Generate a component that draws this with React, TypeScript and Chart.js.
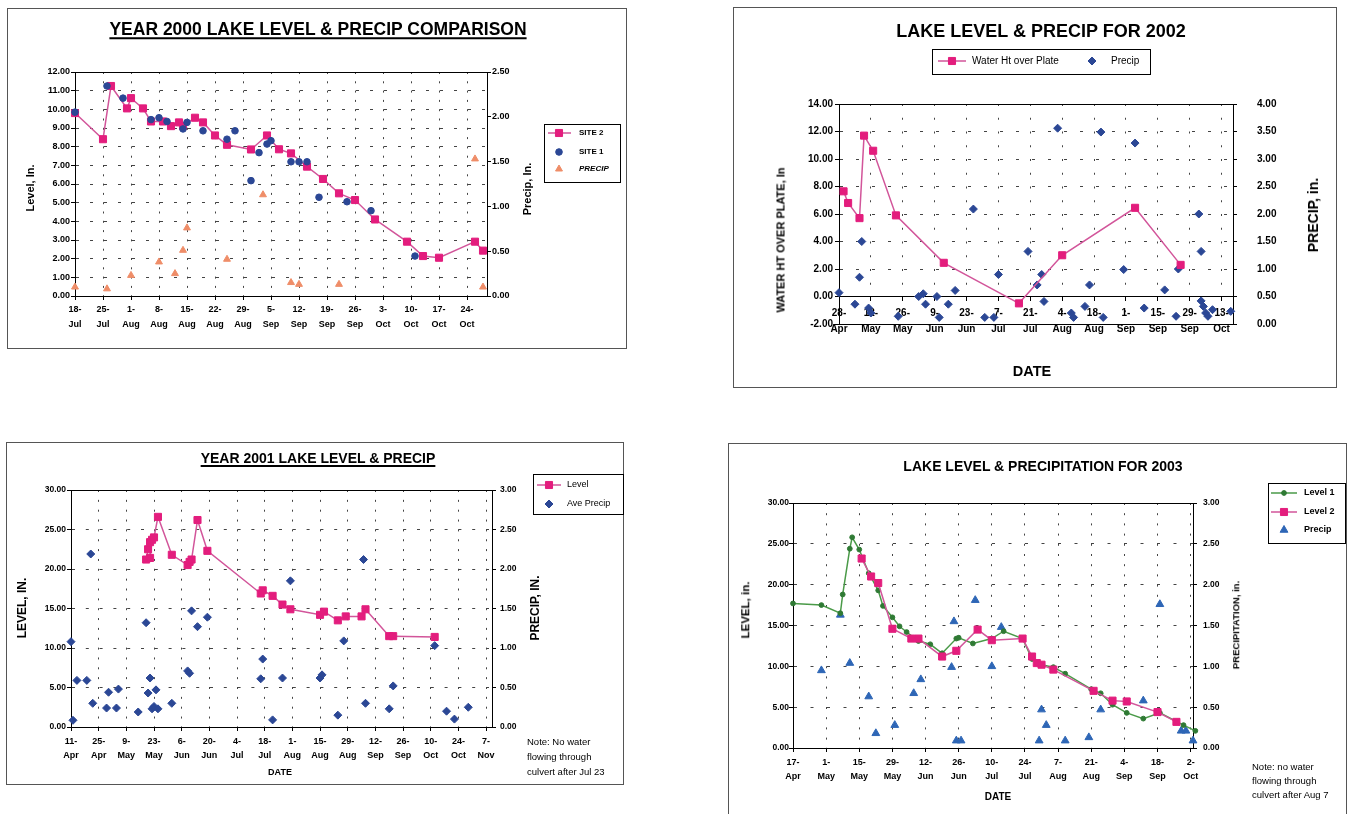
import React, { useEffect, useRef } from "react";
import { Chart, registerables } from "chart.js";
import { drawPoint } from "chart.js/helpers";

Chart.register(...registerables);

const FONT = "'Liberation Sans', Arial, Helvetica, sans-serif";
const GRID = "#444444";
const MON = ["Jan", "Feb", "Mar", "Apr", "May", "Jun", "Jul", "Aug", "Sep", "Oct", "Nov", "Dec"];

// ---------------- YEAR 2000 ----------------
const ticks2000 = ["18-Jul", "25-Jul", "1-Aug", "8-Aug", "15-Aug", "22-Aug", "29-Aug", "5-Sep", "12-Sep", "19-Sep", "26-Sep", "3-Oct", "10-Oct", "17-Oct", "24-Oct"];
const axisEnd2000 = "10-29";
const site2Dates2000 = ["07-18", "07-25", "07-27", "07-31", "08-01", "08-04", "08-06", "08-09", "08-11", "08-13", "08-14", "08-17", "08-19", "08-22", "08-25", "08-31", "09-04", "09-07", "09-10", "09-14", "09-18", "09-22", "09-26", "10-01", "10-09", "10-13", "10-17", "10-26", "10-28"];
const site2Level2000 = [9.8, 8.4, 11.25, 10.05, 10.6, 10.05, 9.35, 9.35, 9.1, 9.3, 9.1, 9.55, 9.3, 8.6, 8.1, 7.85, 8.6, 7.86, 7.64, 6.93, 6.27, 5.5, 5.14, 4.1, 2.91, 2.14, 2.05, 2.91, 2.43];
const site1Dates2000 = ["07-18", "07-26", "07-30", "08-06", "08-08", "08-10", "08-14", "08-15", "08-19", "08-25", "08-27", "08-31", "09-02", "09-04", "09-05", "09-10", "09-12", "09-14", "09-17", "09-24", "09-30", "10-11"];
const site1Level2000 = [9.85, 11.25, 10.6, 9.45, 9.55, 9.35, 8.95, 9.3, 8.85, 8.4, 8.85, 6.18, 7.68, 8.14, 8.32, 7.19, 7.19, 7.19, 5.29, 5.05, 4.57, 2.14];
const precipDates2000 = ["07-18", "07-26", "08-01", "08-08", "08-12", "08-14", "08-15", "08-25", "09-03", "09-10", "09-12", "09-22", "10-26", "10-28"];
const precip2000 = [0.1, 0.08, 0.23, 0.38, 0.25, 0.51, 0.76, 0.41, 1.13, 0.15, 0.13, 0.13, 1.53, 0.1];

// ---------------- YEAR 2002 ----------------
const ticks2002 = ["28-Apr", "12-May", "26-May", "9-Jun", "23-Jun", "7-Jul", "21-Jul", "4-Aug", "18-Aug", "1-Sep", "15-Sep", "29-Sep", "13-Oct"];
const axisEnd2002 = "10-18";
const waterDates2002 = ["04-30", "05-02", "05-07", "05-09", "05-13", "05-23", "06-13", "07-16", "08-04", "09-05", "09-25"];
const waterHt2002 = [7.65, 6.8, 5.7, 11.7, 10.6, 5.9, 2.45, -0.5, 3.0, 6.45, 2.3];
const precipDates2002 = ["04-28", "05-05", "05-07", "05-08", "05-11", "05-12", "05-24", "06-02", "06-04", "06-05", "06-10", "06-11", "06-15", "06-18", "06-26", "07-01", "07-05", "07-07", "07-20", "07-24", "07-26", "07-27", "08-02", "08-08", "08-09", "08-14", "08-16", "08-21", "08-22", "08-31", "09-05", "09-09", "09-18", "09-23", "09-24", "10-03", "10-04", "10-04", "10-05", "10-06", "10-07", "10-09", "10-17"];
const precip2002 = [0.57, 0.36, 0.85, 1.5, 0.29, 0.2, 0.14, 0.5, 0.55, 0.36, 0.5, 0.12, 0.36, 0.61, 2.09, 0.12, 0.12, 0.9, 1.32, 0.71, 0.9, 0.41, 3.56, 0.2, 0.12, 0.32, 0.71, 3.49, 0.12, 0.99, 3.29, 0.29, 0.62, 0.14, 1.0, 2.0, 1.32, 0.42, 0.32, 0.2, 0.14, 0.26, 0.23];

// ---------------- YEAR 2001 ----------------
const ticks2001 = ["11-Apr", "25-Apr", "9-May", "23-May", "6-Jun", "20-Jun", "4-Jul", "18-Jul", "1-Aug", "15-Aug", "29-Aug", "12-Sep", "26-Sep", "10-Oct", "24-Oct", "7-Nov"];
const axisEnd2001 = "11-10";
const levelDates2001 = ["05-19", "05-20", "05-21", "05-21", "05-22", "05-23", "05-25", "06-01", "06-09", "06-10", "06-11", "06-14", "06-19", "07-16", "07-17", "07-22", "07-27", "07-31", "08-15", "08-17", "08-24", "08-28", "09-05", "09-07", "09-19", "09-21", "10-12"];
const level2001 = [21.2, 22.5, 23.4, 21.4, 23.7, 24.0, 26.6, 21.8, 20.5, 20.9, 21.2, 26.2, 22.3, 16.9, 17.3, 16.6, 15.5, 14.9, 14.2, 14.6, 13.5, 14.0, 14.0, 14.9, 11.5, 11.5, 11.4];
const precipDates2001 = ["04-11", "04-12", "04-14", "04-19", "04-21", "04-22", "04-29", "04-30", "05-04", "05-05", "05-15", "05-19", "05-20", "05-21", "05-22", "05-23", "05-24", "05-25", "06-01", "06-09", "06-10", "06-11", "06-14", "06-19", "07-16", "07-17", "07-22", "07-27", "07-31", "08-15", "08-16", "08-24", "08-27", "09-06", "09-07", "09-19", "09-21", "10-12", "10-18", "10-22", "10-29"];
const precip2001 = [1.08, 0.085, 0.59, 0.59, 2.19, 0.3, 0.24, 0.44, 0.24, 0.48, 0.19, 1.32, 0.43, 0.62, 0.23, 0.26, 0.47, 0.23, 0.3, 0.71, 0.68, 1.47, 1.27, 1.39, 0.61, 0.86, 0.09, 0.62, 1.85, 0.62, 0.66, 0.15, 1.09, 2.12, 0.3, 0.23, 0.52, 1.03, 0.2, 0.1, 0.25];

// ---------------- YEAR 2003 ----------------
const ticks2003 = ["17-Apr", "1-May", "15-May", "29-May", "12-Jun", "26-Jun", "10-Jul", "24-Jul", "7-Aug", "21-Aug", "4-Sep", "18-Sep", "2-Oct"];
const axisEnd2003 = "10-03";
const level1Dates2003 = ["04-17", "04-29", "05-07", "05-08", "05-11", "05-12", "05-15", "05-19", "05-23", "05-25", "05-29", "06-01", "06-04", "06-09", "06-14", "06-19", "06-25", "06-26", "07-02", "07-10", "07-15", "07-23", "07-27", "07-31", "08-05", "08-10", "08-21", "08-25", "08-30", "09-05", "09-12", "09-19", "09-29", "10-04"];
const level1_2003 = [17.7, 17.5, 16.5, 18.8, 24.4, 25.8, 24.3, 21.4, 19.3, 17.4, 16.0, 14.9, 14.2, 13.1, 12.7, 11.6, 13.4, 13.5, 12.8, 13.4, 14.3, 13.4, 10.9, 10.2, 9.9, 9.1, 7.2, 6.7, 5.3, 4.3, 3.6, 4.3, 2.8, 2.1];
const level2Dates2003 = ["05-16", "05-20", "05-23", "05-29", "06-06", "06-09", "06-19", "06-25", "07-04", "07-10", "07-23", "07-27", "07-29", "07-31", "08-05", "08-22", "08-30", "09-05", "09-18", "09-26"];
const level2_2003 = [23.2, 21.0, 20.2, 14.6, 13.4, 13.4, 11.2, 11.9, 14.5, 13.2, 13.4, 11.2, 10.4, 10.2, 9.6, 7.0, 5.8, 5.7, 4.4, 3.2];
const precipDates2003 = ["04-29", "05-07", "05-11", "05-19", "05-22", "05-30", "06-07", "06-10", "06-23", "06-24", "06-25", "06-27", "07-03", "07-10", "07-14", "07-30", "07-31", "08-02", "08-10", "08-20", "08-25", "09-12", "09-19", "09-28", "09-30", "10-03"];
const precip2003 = [0.95, 1.63, 1.04, 0.63, 0.18, 0.28, 0.67, 0.84, 0.99, 1.55, 0.09, 0.09, 1.81, 1.0, 1.48, 0.09, 0.47, 0.28, 0.09, 0.13, 0.47, 0.58, 1.76, 0.21, 0.21, 0.09];

// ---------------- helpers ----------------
const dayOf = (year: number, md: string) => {
  const [m, d] = md.split("-").map(Number);
  return Date.UTC(year, m - 1, d) / 86400000;
};
const tickDay = (year: number, lbl: string) => {
  const [d, mon] = lbl.split("-");
  return Date.UTC(year, MON.indexOf(mon), Number(d)) / 86400000;
};
const range = (a: number, b: number, s: number) => {
  const out: number[] = [];
  for (let i = 0; a + i * s <= b + 1e-9; i++) out.push(+(a + i * s).toFixed(6));
  return out;
};

type Series = {
  label: string; dates: string[]; values: number[]; axis: "y" | "y1";
  style: string; radius: number; color: string; line?: string; order?: number;
};
type LegendItem = { ds: number; y: number; mx: number; tx: number; lx1?: number; lx2?: number; font?: string };
type TextItem = { t: string; x: number; y: number; size: number; bold?: boolean; rot?: boolean; ul?: boolean; left?: boolean; italic?: boolean };
type Panel = {
  year: number;
  frame: { x: number; y: number; w: number; h: number };
  plot: { l: number; t: number; r: number; b: number };
  ticks: string[]; axisEnd: string;
  left: { min: number; max: number; step: number };
  right: { min: number; max: number; step: number };
  xAtZero?: boolean;
  yFont: number; xFont: number; xLine: number; xPad: number; tickLen: number; yPadL: number; yPadR: number;
  xDash: number[]; yDash: number[];
  series: Series[];
  legend: { x: number; y: number; w: number; h: number; font: string; items: LegendItem[] };
  texts: TextItem[];
};

const PINK = "#e31d7d";
const PINK_LINE = "#d2559a";
const NAVY = "#2b4795";

const panels: Panel[] = [
  {
    year: 2000,
    frame: { x: 7, y: 8, w: 620, h: 341 },
    plot: { l: 75, t: 72, r: 487, b: 296 },
    ticks: ticks2000, axisEnd: axisEnd2000,
    left: { min: 0, max: 12, step: 1 },
    right: { min: 0, max: 2.5, step: 0.5 },
    yFont: 9, xFont: 9, xLine: 15, xPad: 2.5, tickLen: 4, yPadL: 1, yPadR: 1,
    xDash: [2, 7.3], yDash: [3, 11],
    series: [
      { label: "SITE 2", dates: site2Dates2000, values: site2Level2000, axis: "y", style: "rect", radius: 5, color: PINK, line: PINK_LINE, order: 1 },
      { label: "SITE 1", dates: site1Dates2000, values: site1Level2000, axis: "y", style: "circle", radius: 3.3, color: NAVY, order: 0 },
      { label: "PRECIP", dates: precipDates2000, values: precip2000, axis: "y1", style: "triangle", radius: 4, color: "#ef8d68", order: 2 },
    ],
    legend: {
      x: 537, y: 116, w: 76, h: 58, font: `bold 8px ${FONT}`,
      items: [
        { ds: 0, y: 125, lx1: 541, lx2: 564, mx: 552, tx: 572 },
        { ds: 1, y: 144, mx: 552, tx: 572 },
        { ds: 2, y: 161, mx: 552, tx: 572, font: `italic bold 8px ${FONT}` },
      ],
    },
    texts: [
      { t: "YEAR 2000 LAKE LEVEL & PRECIP COMPARISON", x: 318, y: 30, size: 17.5, bold: true, ul: true },
      { t: "Level, In.", x: 30, y: 188, size: 11, bold: true, rot: true },
      { t: "Precip, In.", x: 527, y: 189, size: 11, bold: true, rot: true },
    ],
  },
  {
    year: 2002,
    frame: { x: 733, y: 7, w: 604, h: 381 },
    plot: { l: 839, t: 104, r: 1233, b: 324 },
    ticks: ticks2002, axisEnd: axisEnd2002,
    left: { min: -2, max: 14, step: 2 },
    right: { min: 0, max: 4, step: 0.5 },
    xAtZero: true,
    yFont: 10, xFont: 10, xLine: 16, xPad: 4.3, tickLen: 4, yPadL: 2, yPadR: 20,
    xDash: [2, 11.75], yDash: [3, 13],
    series: [
      { label: "Water Ht over Plate", dates: waterDates2002, values: waterHt2002, axis: "y", style: "rect", radius: 5, color: PINK, line: PINK_LINE, order: 0 },
      { label: "Precip", dates: precipDates2002, values: precip2002, axis: "y1", style: "rectRot", radius: 4, color: NAVY, order: 1 },
    ],
    legend: {
      x: 199, y: 42, w: 218, h: 25, font: `10px ${FONT}`,
      items: [
        { ds: 0, y: 54, lx1: 205, lx2: 233, mx: 219, tx: 239 },
        { ds: 1, y: 54, mx: 359, tx: 378 },
      ],
    },
    texts: [
      { t: "LAKE LEVEL & PRECIP FOR 2002", x: 1041, y: 31, size: 18, bold: true },
      { t: "WATER HT OVER PLATE, In", x: 781, y: 240, size: 11, bold: true, rot: true },
      { t: "PRECIP, in.", x: 1313, y: 215, size: 14, bold: true, rot: true },
      { t: "DATE", x: 1032, y: 371, size: 14.5, bold: true },
    ],
  },
  {
    year: 2001,
    frame: { x: 6, y: 442, w: 618, h: 343 },
    plot: { l: 71, t: 490, r: 492, b: 727 },
    ticks: ticks2001, axisEnd: axisEnd2001,
    left: { min: 0, max: 30, step: 5 },
    right: { min: 0, max: 3, step: 0.5 },
    yFont: 8.5, xFont: 9, xLine: 14, xPad: 4, tickLen: 4, yPadL: 1, yPadR: 4,
    xDash: [2, 7.85], yDash: [3, 10.8],
    series: [
      { label: "Level", dates: levelDates2001, values: level2001, axis: "y", style: "rect", radius: 5, color: PINK, line: PINK_LINE, order: 0 },
      { label: "Ave Precip", dates: precipDates2001, values: precip2001, axis: "y1", style: "rectRot", radius: 4, color: NAVY, order: 1 },
    ],
    legend: {
      x: 527, y: 32, w: 90, h: 40, font: `9px ${FONT}`,
      items: [
        { ds: 0, y: 43, lx1: 531, lx2: 555, mx: 543, tx: 561 },
        { ds: 1, y: 62, mx: 543, tx: 561 },
      ],
    },
    texts: [
      { t: "YEAR 2001 LAKE LEVEL & PRECIP", x: 318, y: 458, size: 14, bold: true, ul: true },
      { t: "LEVEL, IN.", x: 22, y: 608, size: 12, bold: true, rot: true },
      { t: "PRECIP, IN.", x: 535, y: 608, size: 12, bold: true, rot: true },
      { t: "DATE", x: 280, y: 772, size: 9, bold: true },
      { t: "Note: No water", x: 527, y: 742, size: 9.5, left: true },
      { t: "flowing through", x: 527, y: 757, size: 9.5, left: true },
      { t: "culvert after Jul 23", x: 527, y: 772, size: 9.5, left: true },
    ],
  },
  {
    year: 2003,
    frame: { x: 728, y: 443, w: 619, h: 372 },
    plot: { l: 793, t: 503, r: 1193, b: 748 },
    ticks: ticks2003, axisEnd: axisEnd2003,
    left: { min: 0, max: 30, step: 5 },
    right: { min: 0, max: 3, step: 0.5 },
    yFont: 8.5, xFont: 9, xLine: 14, xPad: 4, tickLen: 4, yPadL: 0, yPadR: 6,
    xDash: [2, 8.2], yDash: [3, 13.5],
    series: [
      { label: "Level 1", dates: level1Dates2003, values: level1_2003, axis: "y", style: "circle", radius: 2.4, color: "#2f7a34", line: "#4a9a48", order: 1 },
      { label: "Level 2", dates: level2Dates2003, values: level2_2003, axis: "y", style: "rect", radius: 5, color: PINK, line: PINK_LINE, order: 0 },
      { label: "Precip", dates: precipDates2003, values: precip2003, axis: "y1", style: "triangle", radius: 4.5, color: "#2e66b6", order: 2 },
    ],
    legend: {
      x: 540, y: 40, w: 77, h: 60, font: `bold 9px ${FONT}`,
      items: [
        { ds: 0, y: 50, lx1: 543, lx2: 569, mx: 556, tx: 576 },
        { ds: 1, y: 69, lx1: 543, lx2: 569, mx: 556, tx: 576 },
        { ds: 2, y: 87, mx: 556, tx: 576 },
      ],
    },
    texts: [
      { t: "LAKE LEVEL & PRECIPITATION FOR 2003", x: 1043, y: 466, size: 14, bold: true },
      { t: "LEVEL, in.", x: 746, y: 610, size: 11.5, bold: true, rot: true },
      { t: "PRECIPITATION, in.", x: 1236, y: 625, size: 9.5, bold: true, rot: true },
      { t: "DATE", x: 998, y: 797, size: 10, bold: true },
      { t: "Note: no water", x: 1252, y: 767, size: 9.5, left: true },
      { t: "flowing through", x: 1252, y: 781, size: 9.5, left: true },
      { t: "culvert after Aug 7", x: 1252, y: 795, size: 9.5, left: true },
    ],
  },
];

function buildConfig(p: Panel): any {
  const f = p.frame, pl = p.plot;
  const leftW = pl.l - f.x;
  const rightW = f.x + f.w - pl.r;
  const topPad = pl.t - f.y;
  const xH = f.y + f.h - pl.b;
  const tickVals = p.ticks.map((t) => tickDay(p.year, t));
  const xMin = tickVals[0];
  const xMax = dayOf(p.year, p.axisEnd);

  const datasets = p.series.map((s) => ({
    label: s.label,
    data: s.dates.map((d, i) => ({ x: dayOf(p.year, d), y: s.values[i] })),
    yAxisID: s.axis,
    showLine: !!s.line,
    borderColor: s.line || s.color,
    borderWidth: s.line ? 1.5 : 0,
    pointStyle: s.style,
    pointRadius: s.radius,
    pointBackgroundColor: s.color,
    pointBorderColor: s.color,
    pointBorderWidth: 1,
    order: s.order ?? 0,
    clip: false,
    tension: 0,
  }));

  const tickFont = (size: number, lh?: number) => ({ family: FONT, size, weight: "bold" as const, lineHeight: lh ?? 1.2 });

  const framePlugin = {
    id: "frameLegend",
    beforeDatasetsDraw(chart: any) {
      const { ctx, chartArea: a } = chart;
      ctx.save();
      ctx.strokeStyle = "#000";
      ctx.lineWidth = 1;
      ctx.strokeRect(Math.round(a.left) + 0.5, Math.round(a.top) + 0.5, Math.round(a.right - a.left), Math.round(a.bottom - a.top));
      ctx.restore();
    },
    afterDraw(chart: any) {
      const ctx = chart.ctx;
      const L = p.legend;
      ctx.save();
      ctx.fillStyle = "#fff";
      ctx.fillRect(L.x, L.y, L.w, L.h);
      ctx.strokeStyle = "#000";
      ctx.lineWidth = 1;
      ctx.strokeRect(L.x + 0.5, L.y + 0.5, L.w, L.h);
      for (const it of L.items) {
        const s = p.series[it.ds];
        const ds = chart.data.datasets[it.ds];
        if (s.line && it.lx1 != null && it.lx2 != null) {
          ctx.strokeStyle = s.line;
          ctx.lineWidth = 1.5;
          ctx.beginPath();
          ctx.moveTo(it.lx1, it.y);
          ctx.lineTo(it.lx2, it.y);
          ctx.stroke();
        }
        ctx.fillStyle = s.color;
        ctx.strokeStyle = s.color;
        ctx.lineWidth = 1;
        drawPoint(ctx, { pointStyle: s.style as any, radius: s.radius, rotation: 0, borderWidth: 1 } as any, it.mx, it.y);
        ctx.fillStyle = "#000";
        ctx.font = it.font || L.font;
        ctx.textBaseline = "middle";
        ctx.textAlign = "left";
        ctx.fillText(ds.label, it.tx, it.y);
      }
      ctx.restore();
    },
  };

  return {
    type: "scatter",
    data: { datasets },
    plugins: [framePlugin],
    options: {
      animation: false,
      responsive: false,
      maintainAspectRatio: false,
      devicePixelRatio: 1,
      events: [],
      layout: { padding: { left: 0, right: 0, top: topPad, bottom: p.xAtZero ? xH : 0 } },
      plugins: { legend: { display: false }, tooltip: { enabled: false }, title: { display: false } },
      scales: {
        x: {
          type: "linear",
          min: xMin,
          max: xMax,
          position: p.xAtZero ? { y: 0 } : "bottom",
          afterBuildTicks: (sc: any) => {
            sc.ticks = tickVals.map((v) => ({ value: v }));
          },
          afterFit: (sc: any) => {
            if (!p.xAtZero) sc.height = xH;
          },
          ticks: {
            autoSkip: false,
            maxRotation: 0,
            minRotation: 0,
            padding: p.xPad,
            color: "#000",
            font: tickFont(p.xFont, p.xLine / p.xFont),
            callback: (_v: any, i: number) => {
              const [d, m] = p.ticks[i].split("-");
              return [d + "-", m];
            },
          },
          grid: { color: GRID, lineWidth: 1, drawTicks: true, tickLength: p.tickLen, tickColor: "#000", tickWidth: 1 },
          border: { display: true, color: "#000", width: 1, dash: p.xDash },
        },
        y: {
          type: "linear",
          position: "left",
          min: p.left.min,
          max: p.left.max,
          afterBuildTicks: (sc: any) => {
            sc.ticks = range(p.left.min, p.left.max, p.left.step).map((v) => ({ value: v }));
          },
          afterFit: (sc: any) => {
            sc.width = leftW;
          },
          ticks: { color: "#000", padding: p.yPadL, font: tickFont(p.yFont), callback: (v: any) => Number(v).toFixed(2) },
          grid: { color: GRID, lineWidth: 1, drawTicks: true, tickLength: p.tickLen, tickColor: "#000", tickWidth: 1 },
          border: { display: true, color: "#000", width: 1, dash: p.yDash },
        },
        y1: {
          type: "linear",
          position: "right",
          min: p.right.min,
          max: p.right.max,
          afterBuildTicks: (sc: any) => {
            sc.ticks = range(p.right.min, p.right.max, p.right.step).map((v) => ({ value: v }));
          },
          afterFit: (sc: any) => {
            sc.width = rightW;
          },
          ticks: { color: "#000", padding: p.yPadR, font: tickFont(p.yFont), callback: (v: any) => Number(v).toFixed(2) },
          grid: { drawOnChartArea: false, drawTicks: true, tickLength: p.tickLen, tickColor: "#000", tickWidth: 1 },
          border: { display: true, color: "#000", width: 1 },
        },
      },
    },
  };
}

function PanelChart({ p }: { p: Panel }) {
  const ref = useRef<HTMLCanvasElement>(null);
  useEffect(() => {
    if (!ref.current) return;
    const chart = new Chart(ref.current, buildConfig(p));
    return () => chart.destroy();
  }, [p]);
  const f = p.frame;
  return (
    <>
      <div
        style={{
          position: "absolute",
          left: f.x,
          top: f.y,
          width: f.w,
          height: f.h,
          border: "1.5px solid #555",
          boxSizing: "border-box",
        }}
      />
      <canvas
        ref={ref}
        width={f.w}
        height={f.h}
        style={{ position: "absolute", left: f.x, top: f.y, width: f.w, height: f.h }}
      />
    </>
  );
}

function Label({ it }: { it: TextItem }) {
  const tf = it.left ? "translate(0,-50%)" : `translate(-50%,-50%)${it.rot ? " rotate(-90deg)" : ""}`;
  return (
    <div
      style={{
        position: "absolute",
        left: it.x,
        top: it.y,
        transform: tf,
        fontSize: it.size,
        fontWeight: it.bold ? 700 : 400,
        fontStyle: it.italic ? "italic" : "normal",
        textDecoration: it.ul ? "underline" : "none",
        textDecorationThickness: it.ul ? "2px" : undefined,
        textUnderlineOffset: it.ul ? "2px" : undefined,
        whiteSpace: "nowrap",
        lineHeight: 1,
        fontFamily: FONT,
        color: "#000",
      }}
    >
      {it.t}
    </div>
  );
}

export default function App() {
  return (
    <div
      style={{
        position: "absolute",
        left: 0,
        top: 0,
        width: 1351,
        height: 814,
        background: "#fff",
        overflow: "hidden",
        fontFamily: FONT,
      }}
    >
      {panels.map((p, i) => (
        <PanelChart key={i} p={p} />
      ))}
      {panels.map((p, i) => p.texts.map((t, j) => <Label key={`${i}-${j}`} it={t} />))}
    </div>
  );
}
